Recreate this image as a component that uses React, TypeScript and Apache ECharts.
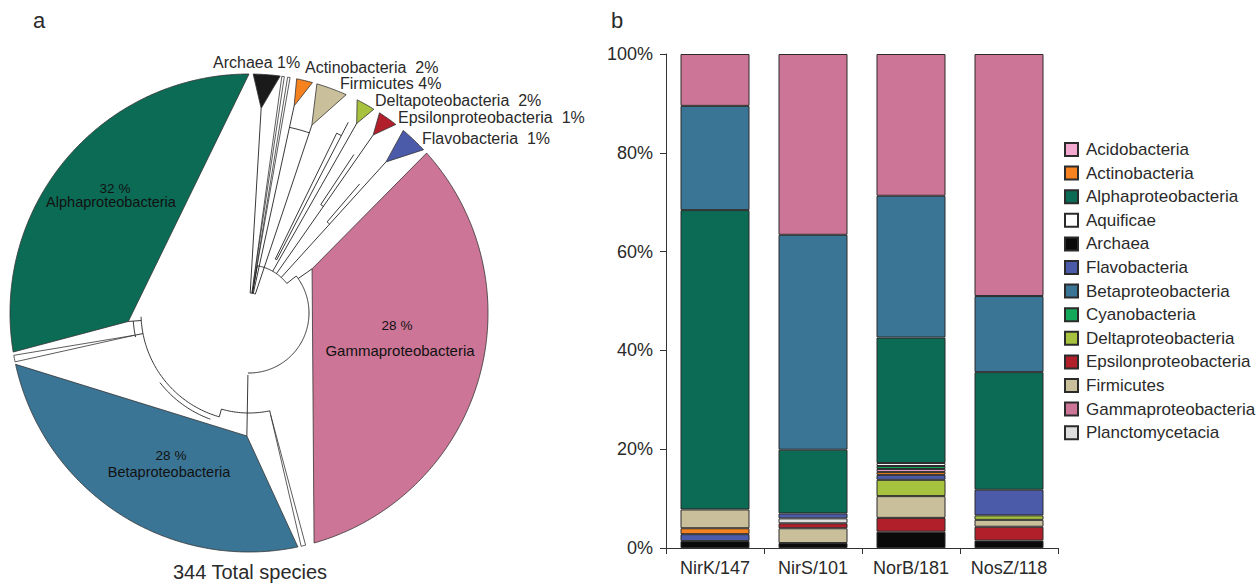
import React, { useEffect, useRef } from 'react';
import * as echarts from 'echarts';

// ---------- Panel b data ----------
const genes = ['NirK/147', 'NirS/101', 'NorB/181', 'NosZ/118'];
const taxa = [
  'Acidobacteria', 'Actinobacteria', 'Alphaproteobacteria', 'Aquificae', 'Archaea',
  'Flavobacteria', 'Betaproteobacteria', 'Cyanobacteria', 'Deltaproteobacteria',
  'Epsilonproteobacteria', 'Firmicutes', 'Gammaproteobacteria', 'Planctomycetacia',
];
const taxonColors = [
  '#f3a9cf', '#f5821f', '#0b6b55', '#ffffff', '#0a0a0a',
  '#4b5aa9', '#3b7595', '#14a85b', '#a7c23e',
  '#b1202a', '#c9bf9b', '#cc7596', '#dedede',
];
// percent of genes per taxon, in gene order
const acidobacteria = [0, 0, 0.6, 0];
const actinobacteria = [1.2, 0, 0.6, 0];
const alphaproteobacteria = [60.6, 12.9, 25.4, 23.8];
const aquificae = [0, 0, 0.6, 0];
const archaea = [1.4, 1.0, 3.3, 1.5];
const flavobacteria = [1.4, 1.0, 1.0, 5.2];
const betaproteobacteria = [21.1, 43.5, 28.7, 15.4];
const cyanobacteria = [0, 0, 0.6, 0];
const deltaproteobacteria = [0, 0, 3.3, 0.9];
const epsilonproteobacteria = [0, 1.0, 2.8, 2.8];
const firmicutes = [3.8, 3.0, 4.4, 1.4];
const gammaproteobacteria = [10.5, 36.6, 28.7, 49.0];
const planctomycetacia = [0, 1.0, 0, 0];
const valuesByTaxon = [
  acidobacteria, actinobacteria, alphaproteobacteria, aquificae, archaea,
  flavobacteria, betaproteobacteria, cyanobacteria, deltaproteobacteria,
  epsilonproteobacteria, firmicutes, gammaproteobacteria, planctomycetacia,
];
// stacking order of each bar, bottom to top
const stackNirK = ['Archaea', 'Flavobacteria', 'Actinobacteria', 'Firmicutes', 'Alphaproteobacteria', 'Betaproteobacteria', 'Gammaproteobacteria'];
const stackNirS = ['Archaea', 'Firmicutes', 'Epsilonproteobacteria', 'Planctomycetacia', 'Flavobacteria', 'Alphaproteobacteria', 'Betaproteobacteria', 'Gammaproteobacteria'];
const stackNorB = ['Archaea', 'Epsilonproteobacteria', 'Firmicutes', 'Deltaproteobacteria', 'Flavobacteria', 'Actinobacteria', 'Acidobacteria', 'Cyanobacteria', 'Aquificae', 'Alphaproteobacteria', 'Betaproteobacteria', 'Gammaproteobacteria'];
const stackNosZ = ['Archaea', 'Epsilonproteobacteria', 'Firmicutes', 'Deltaproteobacteria', 'Flavobacteria', 'Alphaproteobacteria', 'Betaproteobacteria', 'Gammaproteobacteria'];
const stackOrders = [stackNirK, stackNirS, stackNorB, stackNosZ];
// merged sequence of stack layers (a taxon may appear in two layers)
const layerOrder = [
  'Archaea', 'Flavobacteria', 'Actinobacteria', 'Epsilonproteobacteria', 'Firmicutes',
  'Epsilonproteobacteria', 'Planctomycetacia', 'Deltaproteobacteria', 'Flavobacteria',
  'Actinobacteria', 'Acidobacteria', 'Cyanobacteria', 'Aquificae',
  'Alphaproteobacteria', 'Betaproteobacteria', 'Gammaproteobacteria',
];
const yTicks = [0, 20, 40, 60, 80, 100];

// ---------- Panel a data (collapsed clades of the tree, polar: radius px, angle deg clockwise from top) ----------
const cladeNames = ['Alphaproteobacteria', 'Betaproteobacteria', 'Gammaproteobacteria', 'Archaea', 'Actinobacteria', 'Firmicutes', 'Deltaproteobacteria', 'Epsilonproteobacteria', 'Flavobacteria', 'unassigned A', 'unassigned B', 'unassigned C', 'unassigned D'];
const cladeColors = ['#0b6b55', '#3b7595', '#cc7596', '#1a1a1a', '#f5821f', '#c9bf9b', '#a7c23e', '#b1202a', '#4b5aa9', '#ffffff', '#ffffff', '#ffffff', '#ffffff'];
const cladeApexRadius = [121, 123, 77, 205, 212, 198, 218, 217, 204, 117, 104, 30, 30];
const cladeApexAngle = [266, 181, 55, 3.4, 12.3, 18.5, 29.6, 34.9, 42.2, 259, 168, 8.2, 9.6];
const cladeRimStart = [260.6, 168.2, 48, 1, 11.5, 16.5, 26.9, 33.1, 40.2, 258.2, 166.3, 7.9, 9.3];
const cladeRimEnd = [360, 257.6, 164.2, 7.5, 15.4, 24, 31.5, 37.9, 46.9, 259.8, 167.4, 8.5, 9.9];
const pieShares = ['32 %', '28 %', '28 %'];
const smallLabels = ['Archaea 1%', 'Actinobacteria  2%', 'Firmicutes 4%', 'Deltapoteobacteria  2%', 'Epsilonproteobacteria  1%', 'Flavobacteria  1%'];
// tree branches: [angle, r0, r1] and [r, a0, a1]
const treeRadial = [
  [181, 62, 100], [181, 100, 123], [168, 100, 104], [196, 100, 108], [266, 108, 121], [259, 108, 117],
  [55, 60, 77], [52, 48, 60], [42.2, 48, 204], [34.9, 48, 217], [29.6, 48, 218.5], [10, 20, 48],
  [3.4, 20, 205], [12.3, 20, 212], [18.5, 20, 198], [8.2, 20, 30], [9.6, 20, 30],
  [40.6, 120, 170], [33.5, 130, 190], [26, 60, 200], [27.5, 60, 215],
];
const treeArcs = [
  [100, 168, 196], [108, 196, 268], [113, 200, 232], [116, 258, 266],
  [60, 52, 181], [48, 10, 52], [20, 3.4, 18.5], [190, 12.3, 18.5], [120, 40.6, 42.2], [130, 33.5, 34.9],
  [60, 26, 27.5], [200, 26, 27.5],
];
const RIM = 239;

function buildBarSeries() {
  const layerValues: (number | string)[][] = layerOrder.map(() => genes.map(() => '-'));
  stackOrders.forEach((order, g) => {
    let p = 0;
    order.forEach((name) => {
      let idx = p;
      while (idx < layerOrder.length && layerOrder[idx] !== name) idx++;
      const t = taxa.indexOf(name);
      layerValues[idx][g] = valuesByTaxon[t][g];
      p = idx + 1;
    });
  });
  return layerOrder.map((name, i) => ({
    type: 'bar',
    name,
    stack: 'genes',
    xAxisIndex: 0,
    yAxisIndex: 0,
    barWidth: 69,
    data: layerValues[i],
    itemStyle: {
      color: taxonColors[taxa.indexOf(name)],
      borderColor: '#2b2b2b',
      borderWidth: 1,
    },
  }));
}

const FONT = "'Liberation Sans', Arial, Helvetica, sans-serif";

function txt(text: string, x: number, y: number, size: number, align = 'left', color = '#2a2a2a') {
  return {
    type: 'text',
    x,
    y,
    z: 100,
    zlevel: 0,
    silent: true,
    style: {
      text,
      fill: color,
      font: `${size}px ${FONT}`,
      textAlign: align,
      align,
      textVerticalAlign: 'middle',
      verticalAlign: 'middle',
    },
  };
}

export default function App() {
  const ref = useRef<HTMLDivElement>(null);
  useEffect(() => {
    if (!ref.current) return;
    const chart = echarts.init(ref.current, undefined, { renderer: 'svg' });

    const cladeSeries = {
      type: 'custom',
      coordinateSystem: 'polar',
      polarIndex: 0,
      silent: true,
      z: 2,
      data: cladeApexRadius.map((r, i) => [r, cladeApexAngle[i]]),
      renderItem: (params: any, api: any) => {
        const i = params.dataIndex;
        const pts: number[][] = [api.coord([cladeApexRadius[i], cladeApexAngle[i]])];
        const a0 = cladeRimStart[i];
        const a1 = cladeRimEnd[i];
        const n = Math.max(2, Math.ceil((a1 - a0) / 0.5));
        for (let k = 0; k <= n; k++) pts.push(api.coord([RIM, a0 + ((a1 - a0) * k) / n]));
        return {
          type: 'polygon',
          shape: { points: pts },
          style: { fill: cladeColors[i], stroke: '#333', lineWidth: 0.8 },
        };
      },
    };
    const radialSeries = {
      type: 'custom',
      coordinateSystem: 'polar',
      polarIndex: 0,
      silent: true,
      z: 3,
      data: treeRadial.map((d) => [d[1], d[0]]),
      renderItem: (params: any, api: any) => {
        const d = treeRadial[params.dataIndex];
        return {
          type: 'polyline',
          shape: { points: [api.coord([d[1], d[0]]), api.coord([d[2], d[0]])] },
          style: { stroke: '#222', lineWidth: 0.9, fill: 'none' },
        };
      },
    };
    const arcSeries = {
      type: 'custom',
      coordinateSystem: 'polar',
      polarIndex: 0,
      silent: true,
      z: 3,
      data: treeArcs.map((d) => [d[0], d[1]]),
      renderItem: (params: any, api: any) => {
        const d = treeArcs[params.dataIndex];
        const pts: number[][] = [];
        const n = Math.max(2, Math.ceil((d[2] - d[1]) / 1));
        for (let k = 0; k <= n; k++) pts.push(api.coord([d[0], d[1] + ((d[2] - d[1]) * k) / n]));
        return {
          type: 'polyline',
          shape: { points: pts },
          style: { stroke: '#222', lineWidth: 0.9, fill: 'none' },
        };
      },
    };

    const option: any = {
      animation: false,
      textStyle: { fontFamily: FONT },
      polar: { center: [249, 313], radius: RIM },
      angleAxis: {
        type: 'value', min: 0, max: 360, startAngle: 90, clockwise: true,
        axisLine: { show: false }, axisTick: { show: false }, axisLabel: { show: false }, splitLine: { show: false },
      },
      radiusAxis: {
        type: 'value', min: 0, max: RIM,
        axisLine: { show: false }, axisTick: { show: false }, axisLabel: { show: false }, splitLine: { show: false },
      },
      grid: { left: 666, top: 54, width: 392, height: 494 },
      xAxis: {
        type: 'category',
        data: genes,
        boundaryGap: true,
        axisLine: { lineStyle: { color: '#333', width: 1 } },
        axisTick: { show: true, length: 6, interval: 0, lineStyle: { color: '#333' } },
        axisLabel: { fontSize: 18, color: '#2a2a2a', margin: 11, interval: 0, fontFamily: FONT },
      },
      yAxis: {
        type: 'value',
        min: yTicks[0],
        max: yTicks[yTicks.length - 1],
        interval: 20,
        axisLine: { show: true, lineStyle: { color: '#333', width: 1 } },
        axisTick: { show: true, length: 6, lineStyle: { color: '#333' } },
        splitLine: { show: false },
        axisLabel: { fontSize: 18, color: '#2a2a2a', margin: 13, formatter: '{value}%', fontFamily: FONT },
      },
      legend: {
        data: taxa,
        orient: 'vertical',
        left: 1059,
        top: 136,
        itemWidth: 13,
        itemHeight: 13,
        itemGap: 6.6,
        icon: 'rect',
        selectedMode: false,
        textStyle: { fontSize: 17, color: '#2a2a2a', fontFamily: FONT, padding: [0, 0, 0, 3] },
      },
      series: [cladeSeries, arcSeries, radialSeries, ...buildBarSeries()],
      graphic: {
        elements: [
          txt('a', 33, 20, 22),
          txt('b', 611, 20, 22),
          txt(smallLabels[0], 213, 62, 16),
          txt(smallLabels[1], 305, 67, 16),
          txt(smallLabels[2], 340, 83, 16),
          txt(smallLabels[3], 375, 100, 16),
          txt(smallLabels[4], 398, 117, 16),
          txt(smallLabels[5], 422, 138, 16),
          txt(pieShares[0], 115, 188, 13.5, 'center', '#111'),
          txt(cladeNames[0], 111, 202, 14.5, 'center', '#111'),
          txt(pieShares[2], 397, 325, 13.5, 'center', '#111'),
          txt(cladeNames[2], 400, 350, 15, 'center', '#111'),
          txt(pieShares[1], 171, 455, 13.5, 'center', '#111'),
          txt(cladeNames[1], 169, 472, 14.5, 'center', '#111'),
          txt('344 Total species', 250, 572, 20, 'center', '#2a2a2a'),
        ],
      },
    };
    chart.setOption(option);
    return () => chart.dispose();
  }, []);
  return (
    <div
      ref={ref}
      style={{ position: 'fixed', left: 0, top: 0, width: 1256, height: 583, background: '#fff' }}
    />
  );
}
